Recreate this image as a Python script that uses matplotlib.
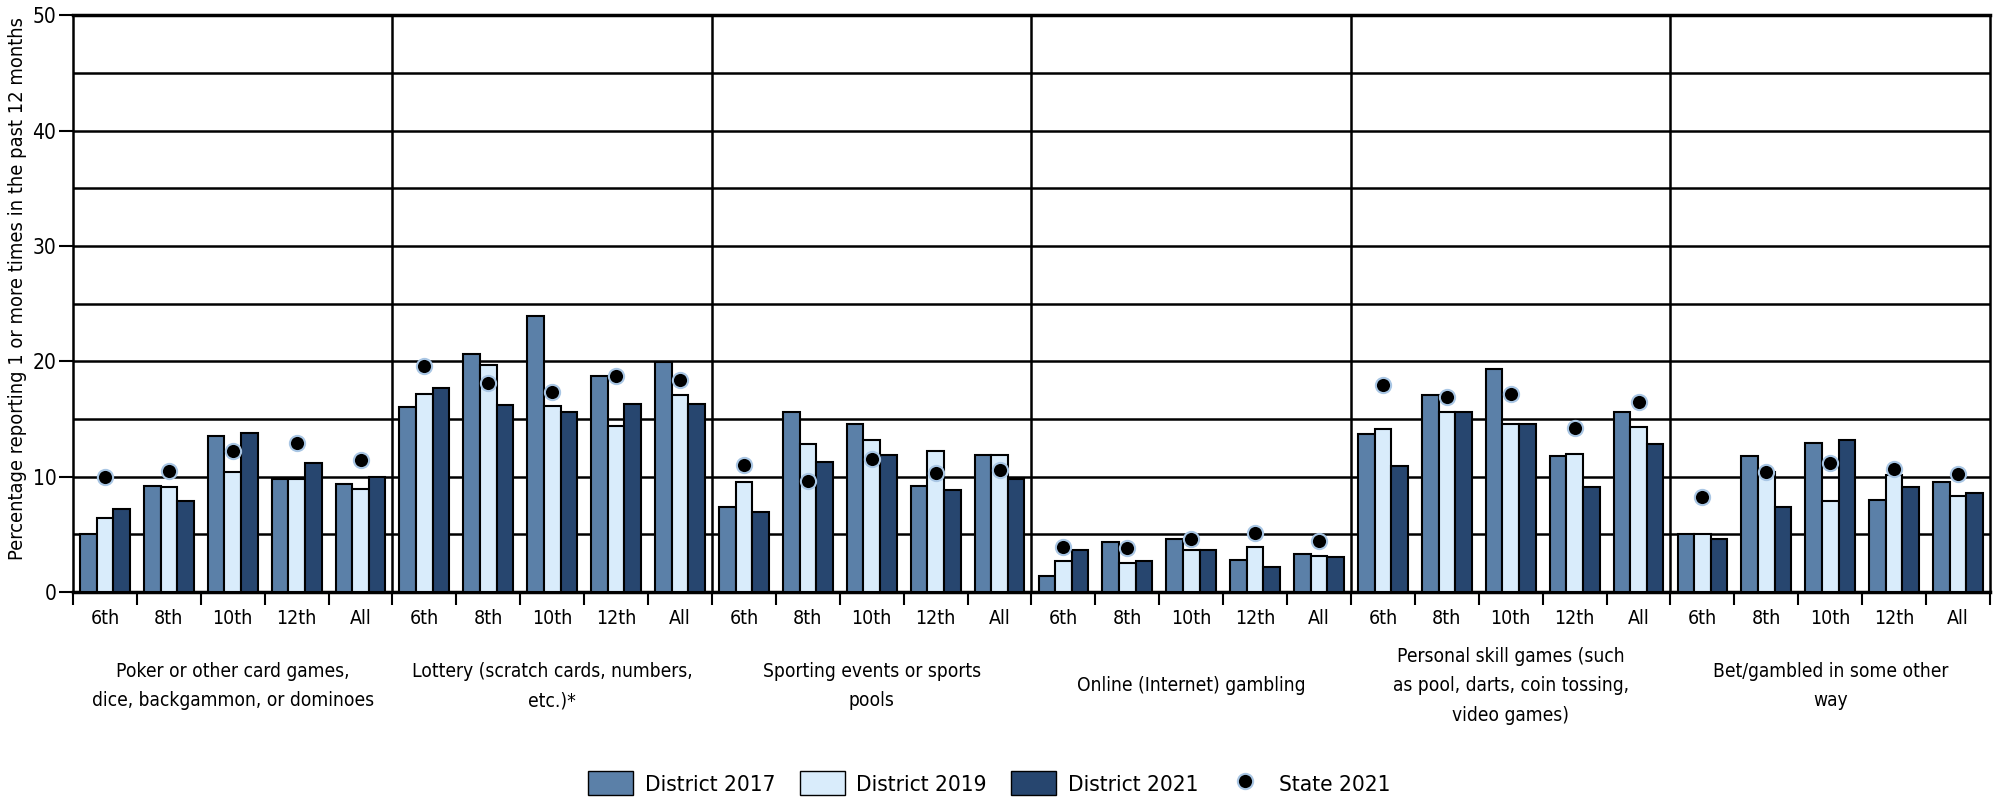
import matplotlib
matplotlib.use("Agg")
import matplotlib.pyplot as plt
import numpy as np
from matplotlib.patches import Patch
from matplotlib.lines import Line2D

plt.rcParams['font.family'] = ['Liberation Sans Narrow', 'DejaVu Sans']
plt.rcParams['font.stretch'] = 'condensed'

grades = ['6th', '8th', '10th', '12th', 'All']
groups = [
    'Poker or other card games,\ndice, backgammon, or dominoes',
    'Lottery (scratch cards, numbers,\netc.)*',
    'Sporting events or sports\npools',
    'Online (Internet) gambling',
    'Personal skill games (such\nas pool, darts, coin tossing,\nvideo games)',
    'Bet/gambled in some other\nway',
]

# one row per group, one value per grade
district_2017 = [
    [5.0, 9.2, 13.5, 9.8, 9.4],
    [16.0, 20.6, 23.9, 18.7, 19.9],
    [7.4, 15.6, 14.6, 9.2, 11.9],
    [1.4, 4.3, 4.6, 2.8, 3.3],
    [13.7, 17.1, 19.3, 11.8, 15.6],
    [5.0, 11.8, 12.9, 8.0, 9.5],
]
district_2019 = [
    [6.4, 9.1, 10.4, 9.8, 8.9],
    [17.2, 19.7, 16.1, 14.4, 17.1],
    [9.5, 12.8, 13.2, 12.2, 11.9],
    [2.7, 2.5, 3.6, 3.9, 3.1],
    [14.1, 15.6, 14.6, 12.0, 14.3],
    [5.0, 10.4, 7.9, 10.1, 8.3],
]
district_2021 = [
    [7.2, 7.9, 13.8, 11.2, 10.0],
    [17.7, 16.2, 15.6, 16.3, 16.3],
    [6.9, 11.3, 11.9, 8.8, 9.8],
    [3.6, 2.7, 3.6, 2.2, 3.0],
    [10.9, 15.6, 14.6, 9.1, 12.8],
    [4.6, 7.4, 13.2, 9.1, 8.6],
]
state_2021 = [
    [10.0, 10.5, 12.2, 12.9, 11.4],
    [19.6, 18.1, 17.3, 18.7, 18.4],
    [11.0, 9.6, 11.5, 10.3, 10.6],
    [3.9, 3.8, 4.6, 5.1, 4.4],
    [17.9, 16.9, 17.2, 14.2, 16.5],
    [8.2, 10.4, 11.2, 10.7, 10.2],
]

c17 = '#5b80a8'
c19 = '#d9ecfb'
c21 = '#27466f'

fig = plt.figure(figsize=(19.99, 8.01), dpi=100)
ax = fig.add_axes([0.0365, 0.261, 0.959, 0.72])

n = len(groups) * len(grades)
x = np.arange(n) + 0.5
v17 = np.array(district_2017).ravel()
v19 = np.array(district_2019).ravel()
v21 = np.array(district_2021).ravel()
vs = np.array(state_2021).ravel()

w = 0.26
for yv in range(5, 50, 5):
    ax.axhline(yv, color='black', lw=1.8, zorder=1)
for gx in range(5, n, 5):
    ax.axvline(gx, color='black', lw=1.8, zorder=1)

kw = dict(width=w, edgecolor='black', linewidth=1.5, zorder=3)
ax.bar(x - w, v17, color=c17, **kw)
ax.bar(x, v19, color=c19, **kw)
ax.bar(x + w, v21, color=c21, **kw)
ax.scatter(x, vs, s=120, color='black', edgecolors='#a9c6e4', linewidths=1.5, zorder=4)

ax.set_xlim(0, n)
ax.set_ylim(0, 50)
ax.set_yticks([0, 10, 20, 30, 40, 50])
ax.tick_params(axis='y', length=10, width=1.5, labelsize=15, pad=2)
ax.set_xticks(x)
ax.set_xticklabels(grades * len(groups))
ax.tick_params(axis='x', which='major', length=0, labelsize=14, pad=12)
ax.set_xticks(np.arange(n + 1), minor=True)
ax.tick_params(axis='x', which='minor', length=9, width=1.5)
for s in ax.spines.values():
    s.set_linewidth(1.8)
ax.spines['bottom'].set_linewidth(2.5)
ax.spines['top'].set_linewidth(2.5)

ax.set_ylabel('Percentage reporting 1 or more times in the past 12 months', fontsize=14.4, labelpad=4)
ax.yaxis.label.set_y(0.527)

for i, g in enumerate(groups):
    xc = i * 5 + 2.5
    ax.text(xc, -0.163, g, transform=ax.get_xaxis_transform(), ha='center', va='center',
            fontsize=13.8, linespacing=1.7)

handles = [
    Patch(facecolor=c17, edgecolor='black', label='District 2017'),
    Patch(facecolor=c19, edgecolor='black', label='District 2019'),
    Patch(facecolor=c21, edgecolor='black', label='District 2021'),
    Line2D([], [], marker='o', linestyle='', markersize=11, markerfacecolor='black',
           markeredgecolor='#a9c6e4', markeredgewidth=1.5, label='State 2021'),
]
fig.legend(handles=handles, loc='center', bbox_to_anchor=(0.495, 0.0225), ncol=4, frameon=False,
           fontsize=16.2, handlelength=2.0, handleheight=1.3, columnspacing=1.1, handletextpad=0.5)

plt.savefig('out.png', dpi=100)
